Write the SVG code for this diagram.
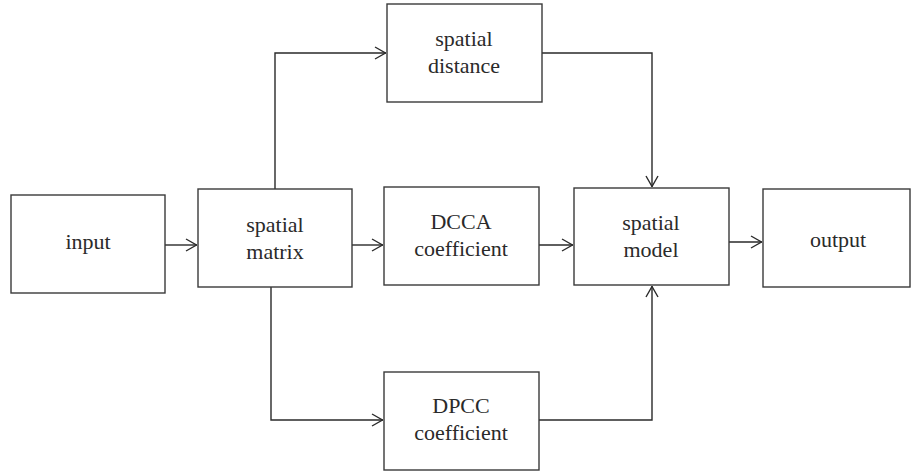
<svg xmlns="http://www.w3.org/2000/svg" width="911" height="472" viewBox="0 0 911 472">
<style>
.box{fill:#fff;stroke:#3a3a3a;stroke-width:1.4}
.c{fill:none;stroke:#2a2a2a;stroke-width:1.4}
text{font-family:"Liberation Serif","DejaVu Serif",serif;font-size:22px;fill:#2a2a2a;text-anchor:middle}
</style>
<defs>
<marker id="ah" viewBox="0 0 12 14" refX="12" refY="7" markerWidth="12" markerHeight="14" markerUnits="userSpaceOnUse" orient="auto">
<path d="M1,1 L11.5,7 L1,13" fill="none" stroke="#2a2a2a" stroke-width="1.4"/>
</marker>
</defs>
<rect width="911" height="472" fill="#fff"/>
<g id="connectors">
<path class="c" d="M165,245 H197" marker-end="url(#ah)"/>
<path class="c" d="M275,189 V53 H386" marker-end="url(#ah)"/>
<path class="c" d="M352,245 H383" marker-end="url(#ah)"/>
<path class="c" d="M271,287 V420 H383" marker-end="url(#ah)"/>
<path class="c" d="M542,53 H652 V187" marker-end="url(#ah)"/>
<path class="c" d="M539,245 H573" marker-end="url(#ah)"/>
<path class="c" d="M539,420 H652 V286" marker-end="url(#ah)"/>
<path class="c" d="M729,242 H762" marker-end="url(#ah)"/>
</g>
<g id="input"><rect class="box" x="11" y="195" width="154" height="98"/><text x="88" y="249">input</text></g>
<g id="spatial-matrix"><rect class="box" x="198" y="189" width="154" height="98"/><text x="275" y="232">spatial</text><text x="275" y="259">matrix</text></g>
<g id="spatial-distance"><rect class="box" x="387" y="4" width="155" height="98"/><text x="464" y="46">spatial</text><text x="464" y="73">distance</text></g>
<g id="dcca"><rect class="box" x="384" y="187" width="155" height="98"/><text x="461" y="229">DCCA</text><text x="461" y="256">coefficient</text></g>
<g id="spatial-model"><rect class="box" x="574" y="188" width="155" height="97"/><text x="651" y="230">spatial</text><text x="651" y="257">model</text></g>
<g id="output"><rect class="box" x="763" y="189" width="147" height="98"/><text x="838" y="247">output</text></g>
<g id="dpcc"><rect class="box" x="384" y="372" width="155" height="98"/><text x="461" y="413">DPCC</text><text x="461" y="440">coefficient</text></g>
</svg>
